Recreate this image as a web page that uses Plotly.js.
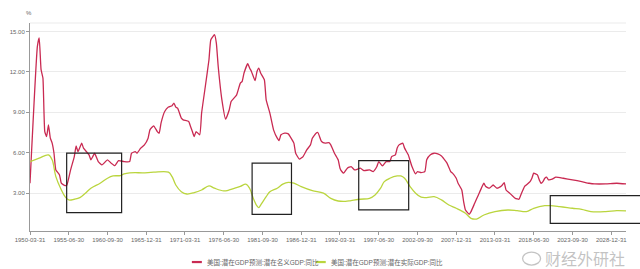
<!DOCTYPE html>
<html>
<head>
<meta charset="utf-8">
<script src="https://cdn.plot.ly/plotly-3.0.1.min.js"></script>
<style>
html,body{margin:0;padding:0;background:#fff;}
#chart{width:640px;height:269px;}
</style>
</head>
<body>
<div id="chart"></div>
<script>
const seriesNames = ['美国:潜在GDP预测:潜在名义GDP:同比', '美国:潜在GDP预测:潜在实际GDP:同比'];

const tickDates = ['1950-03-31','1955-06-30','1960-09-30','1965-12-31','1971-03-31','1976-06-30','1981-09-30','1986-12-31','1992-03-31','1997-06-30','2002-09-30','2007-12-31','2013-03-31','2018-06-30','2023-09-30','2028-12-31'];

const nominalDates = ['1950-03-31','1951-03-31','1951-06-30','1951-09-30','1951-12-31','1952-03-31','1952-06-30','1952-09-30','1952-12-31','1953-03-31','1953-06-30','1953-09-30','1954-03-31','1954-06-30','1954-12-31','1955-03-31','1955-09-30','1956-03-31','1956-06-30','1956-09-30','1957-03-31','1957-06-30','1958-03-31','1958-06-30','1958-09-30','1958-12-31','1959-06-30','1959-12-31','1960-09-30','1961-03-31','1961-09-30','1962-03-31','1962-12-31','1963-09-30','1963-12-31','1964-06-30','1964-09-30','1965-03-31','1965-09-30','1966-03-31','1966-06-30','1966-12-31','1967-06-30','1967-09-30','1967-12-31','1968-06-30','1968-12-31','1969-06-30','1969-09-30','1969-12-31','1970-03-31','1970-09-30','1970-12-31','1971-09-30','1971-12-31','1972-03-31','1972-06-30','1972-09-30','1973-03-31','1973-06-30','1973-12-31','1974-06-30','1974-09-30','1975-03-31','1975-06-30','1975-09-30','1976-03-31','1976-09-30','1977-03-31','1977-06-30','1977-12-31','1978-03-31','1978-09-30','1978-12-31','1979-03-31','1979-09-30','1979-12-31','1980-03-31','1980-09-30','1980-12-31','1981-03-31','1981-06-30','1981-12-31','1982-03-31','1982-09-30','1983-03-31','1983-09-30','1983-12-31','1984-03-31','1984-09-30','1985-03-31','1985-06-30','1985-12-31','1986-03-31','1986-09-30','1987-03-31','1987-09-30','1988-03-31','1988-06-30','1988-12-31','1989-03-31','1989-09-30','1990-03-31','1990-09-30','1990-12-31','1991-06-30','1991-12-31','1992-03-31','1992-06-30','1992-09-30','1993-03-31','1993-09-30','1994-03-31','1994-12-31','1995-06-30','1996-03-31','1996-09-30','1997-03-31','1997-06-30','1997-12-31','1998-06-30','1998-12-31','1999-03-31','1999-09-30','1999-12-31','2000-03-31','2000-09-30','2000-12-31','2001-06-30','2001-12-31','2002-06-30','2002-09-30','2003-03-31','2003-09-30','2003-12-31','2004-06-30','2004-12-31','2005-06-30','2005-12-31','2006-03-31','2006-09-30','2007-03-31','2007-06-30','2007-12-31','2008-03-31','2008-09-30','2008-12-31','2009-03-31','2009-09-30','2009-12-31','2010-06-30','2010-12-31','2011-06-30','2011-09-30','2011-12-31','2012-06-30','2012-12-31','2013-06-30','2013-12-31','2014-03-31','2014-06-30','2014-09-30','2015-03-31','2015-12-31','2016-06-30','2016-09-30','2017-03-31','2017-06-30','2017-12-31','2018-03-31','2018-06-30','2018-12-31','2019-03-31','2019-06-30','2019-09-30','2019-12-31','2020-03-31','2020-06-30','2020-12-31','2021-06-30','2022-06-30','2023-09-30','2024-12-31','2025-12-31','2026-09-30','2028-03-31','2029-09-30','2030-12-31'];
const nominalValues = [3.73,13.9,14.53,12.17,11.55,7.57,7.2,8.07,7.08,6.71,5.96,4.72,4.35,3.73,3.55,3.6,4.72,5.71,6.5,6.08,6.71,6.34,5.84,5.47,5.71,5.96,5.34,5.09,5.47,5.22,5.04,5.41,5.34,5.34,5.96,6.08,5.96,6.34,6.58,7.08,7.7,8.0,7.57,7.45,8.2,9.06,9.39,9.49,9.69,9.39,9.31,8.57,8.44,8.32,7.95,7.57,7.2,7.57,7.33,8.94,10.92,12.91,14.4,14.77,14.15,12.41,9.93,8.5,9.19,9.81,10.13,10.3,11.17,11.3,11.92,12.61,12.29,12.04,11.35,12.04,12.29,11.92,11.42,9.93,8.94,7.7,7.08,6.9,7.33,7.45,7.4,7.2,6.71,5.96,5.52,5.71,6.21,6.58,7.08,7.45,7.5,6.83,6.71,6.75,6.58,5.96,5.47,4.85,4.6,4.48,4.85,4.97,4.72,4.85,4.67,4.72,4.6,4.97,5.34,5.02,5.34,5.34,5.71,5.84,6.34,6.58,6.71,6.34,5.84,4.97,4.42,4.6,4.52,4.6,5.47,5.84,5.96,5.91,5.76,5.6,5.22,4.6,4.48,4.1,3.73,3.23,2.36,1.74,1.42,1.62,2.24,2.86,3.48,3.73,3.48,3.36,3.6,3.36,3.48,3.6,3.78,3.23,2.99,2.61,2.54,2.86,3.48,3.6,3.85,4.1,4.48,4.35,3.98,3.73,3.85,4.1,4.18,3.98,4.03,4.18,4.1,3.98,3.85,3.73,3.68,3.68,3.73,3.68];

const realDates = ['1950-03-31','1951-06-30','1952-09-30','1953-03-31','1953-09-30','1954-06-30','1954-12-31','1955-06-30','1956-03-31','1956-12-31','1957-09-30','1958-06-30','1959-09-30','1960-09-30','1961-06-30','1962-06-30','1962-12-31','1963-09-30','1964-06-30','1965-06-30','1966-12-31','1968-12-31','1969-06-30','1969-12-31','1970-09-30','1971-06-30','1972-06-30','1973-06-30','1974-06-30','1975-03-31','1976-06-30','1977-03-31','1977-12-31','1978-09-30','1979-06-30','1979-12-31','1980-06-30','1980-12-31','1981-03-31','1981-06-30','1982-03-31','1982-09-30','1983-09-30','1984-06-30','1985-03-31','1985-12-31','1986-12-31','1988-06-30','1989-12-31','1990-12-31','1991-12-31','1992-12-31','1993-09-30','1994-12-31','1996-03-31','1996-12-31','1997-09-30','1998-03-31','1998-12-31','1999-12-31','2000-06-30','2000-12-31','2001-09-30','2002-06-30','2003-03-31','2003-12-31','2004-12-31','2005-12-31','2006-12-31','2007-12-31','2009-03-31','2009-12-31','2010-09-30','2011-09-30','2013-03-31','2014-12-31','2016-03-31','2017-06-30','2018-06-30','2019-12-31','2020-09-30','2021-12-31','2023-09-30','2024-12-31','2026-03-31','2028-03-31','2029-09-30','2030-12-31'];
const realValues = [5.34,5.59,5.84,5.47,4.22,3.23,2.73,2.49,2.54,2.66,2.99,3.36,3.73,4.1,4.27,4.3,4.42,4.5,4.52,4.5,4.55,4.55,4.22,3.6,3.1,2.93,3.03,3.23,3.53,3.36,3.16,3.23,3.36,3.5,3.66,3.36,2.61,2.04,1.91,2.11,2.73,3.1,3.36,3.66,3.8,3.73,3.48,3.18,2.99,2.61,2.41,2.38,2.44,2.54,2.61,2.86,3.36,3.85,4.1,4.27,4.27,4.1,3.48,2.99,2.69,2.66,2.73,2.49,2.11,1.87,1.5,1.12,1.07,1.37,1.62,1.74,1.69,1.62,1.87,2.06,2.06,1.99,1.87,1.79,1.62,1.62,1.69,1.67];

const yTicks = [3, 6, 9, 12, 15];

const RED = '#c92a52';
const GREEN = '#bad53e';
const FONT = 'Liberation Sans, Noto Sans CJK SC, sans-serif';

const traces = [
  {x: nominalDates, y: nominalValues, type: 'scatter', mode: 'lines', name: seriesNames[0],
   line: {color: RED, width: 1.3, shape: 'spline', smoothing: 0.4}, showlegend: false, hoverinfo: 'skip'},
  {x: realDates, y: realValues, type: 'scatter', mode: 'lines', name: seriesNames[1],
   line: {color: GREEN, width: 1.3, shape: 'spline', smoothing: 1}, showlegend: false, hoverinfo: 'skip'}
];

// plot area in pixels: x 30..626.5, y 23.3..231
function px(x){ return (x - 30) / 596.5; }
function py(y){ return (231 - y) / 207.7; }
function box(x0, y0, x1, y1){
  return {type: 'rect', xref: 'paper', yref: 'paper', x0: px(x0), x1: px(x1), y0: py(y1), y1: py(y0),
          line: {color: '#222', width: 1.2}, fillcolor: 'rgba(0,0,0,0)', layer: 'above'};
}

const legY = py(262);
const shapes = [
  {type: 'line', xref: 'paper', yref: 'paper', x0: 0, x1: 1, y0: 1, y1: 1, line: {color: '#ebebeb', width: 1}, layer: 'below'},
  box(66.7, 153.3, 121.7, 212.7),
  box(252.3, 163.3, 291.7, 214.3),
  box(359, 160.7, 409, 210),
  box(550.7, 195.7, 660, 223.3),
  {type: 'line', xref: 'paper', yref: 'paper', x0: px(192), x1: px(202), y0: legY, y1: legY, line: {color: RED, width: 2.2}},
  {type: 'line', xref: 'paper', yref: 'paper', x0: px(316), x1: px(326), y0: legY, y1: legY, line: {color: GREEN, width: 2.2}},
  {type: 'circle', xref: 'paper', yref: 'paper', x0: px(523), x1: px(541), y0: py(265), y1: py(252), line: {color: 'rgba(170,170,170,0.7)', width: 1.3}, fillcolor: 'rgba(0,0,0,0)'}
];

const annotations = [
  {xref: 'paper', yref: 'paper', x: px(29), y: py(13), text: '%', showarrow: false, xanchor: 'center', yanchor: 'middle', font: {family: FONT, size: 6, color: '#666'}},
  {xref: 'paper', yref: 'paper', x: px(205), y: legY, text: seriesNames[0], showarrow: false, xanchor: 'left', yanchor: 'middle', font: {family: FONT, size: 6.5, color: '#666'}},
  {xref: 'paper', yref: 'paper', x: px(329), y: legY, text: seriesNames[1], showarrow: false, xanchor: 'left', yanchor: 'middle', font: {family: FONT, size: 6.5, color: '#666'}},
  {xref: 'paper', yref: 'paper', x: px(543), y: py(258), text: '财经外研社', showarrow: false, xanchor: 'left', yanchor: 'middle', font: {family: 'Noto Sans CJK SC, sans-serif', size: 16, color: 'rgba(175,175,175,0.75)'}}
];

const layout = {
  width: 640, height: 269,
  margin: {l: 30, r: 13.5, t: 23.3, b: 38},
  paper_bgcolor: '#fff', plot_bgcolor: '#fff',
  font: {family: FONT, size: 6, color: '#666'},
  xaxis: {
    type: 'date', range: ['1950-03-31', '2030-12-31'],
    tickvals: tickDates, ticktext: tickDates,
    showgrid: false, zeroline: false,
    showline: true, linecolor: '#999', linewidth: 1,
    ticks: 'outside', ticklen: 3, tickcolor: '#999',
    tickfont: {family: FONT, size: 6, color: '#666'}
  },
  yaxis: {
    range: [0.18, 15.64],
    tickvals: yTicks, ticktext: yTicks.map(v => v.toFixed(2)),
    showgrid: true, gridcolor: '#ebebeb', gridwidth: 1, zeroline: false,
    showline: true, linecolor: '#999', linewidth: 1,
    ticks: 'outside', ticklen: 3, tickcolor: '#999',
    tickfont: {family: FONT, size: 6, color: '#666'}
  },
  shapes: shapes,
  annotations: annotations,
  showlegend: false
};

Plotly.newPlot('chart', traces, layout, {displayModeBar: false, staticPlot: true});
</script>
</body>
</html>
